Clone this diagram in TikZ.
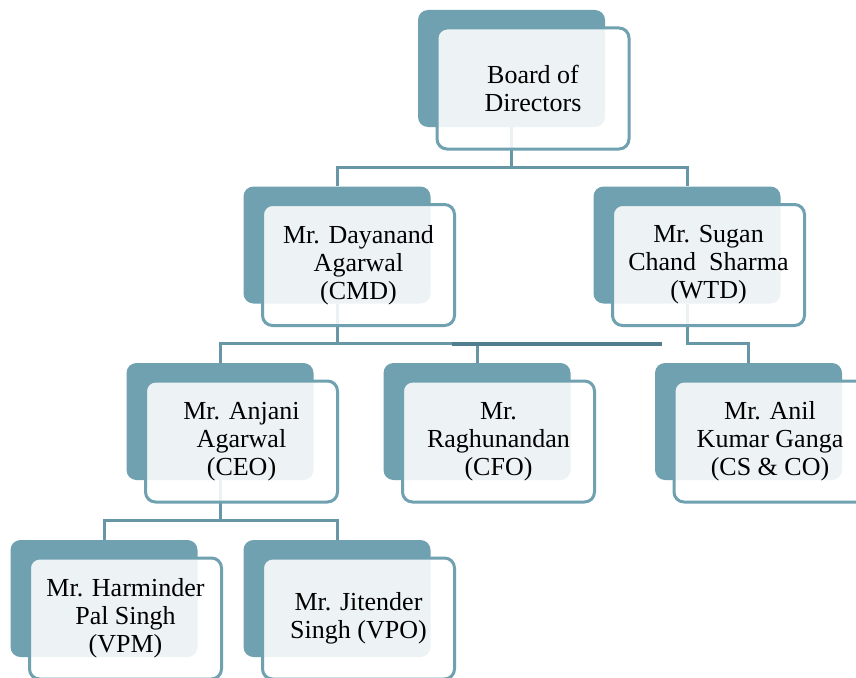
\documentclass[tikz,border=0pt]{standalone}
\usepackage{fontspec}
\setmainfont{Liberation Serif}
\definecolor{teal1}{HTML}{6FA1B0}
\definecolor{conn1}{HTML}{6797A7}
\definecolor{stray1}{HTML}{4F7E8E}
\pgfdeclarelayer{bg}
\pgfsetlayers{bg,main}
\begin{document}
\begin{tikzpicture}[x=1pt,y=-1pt,
  backbox/.style={fill=teal1, rounded corners=10pt, minimum width=187pt, minimum height=117pt, inner sep=0pt},
  frontbox/.style={draw=teal1, line width=3pt, fill=white, fill opacity=0.88, text opacity=1, rounded corners=10pt,
    minimum width=192pt, minimum height=121pt, inner sep=0pt, align=center, font=\fontsize{26}{28}\selectfont},
  conn/.style={draw=conn1, line width=3pt},
  strayline/.style={draw=stray1, line width=4pt},
  fshift/.style={shift={(21.5,20)}}
]
\useasboundingbox (0,0) rectangle (856,677);
\clip (0,0) rectangle (856,677);

% back boxes
\node[backbox] (bodB) at (511.5,68.5) {};
\node[backbox] (cmdB) at (337,245) {};
\node[backbox] (wtdB) at (687,245) {};
\node[backbox] (anjB) at (220,421.5) {};
\node[backbox] (ragB) at (477,421.5) {};
\node[backbox] (anilB) at (748.5,421.5) {};
\node[backbox] (harB) at (104,598.5) {};
\node[backbox] (jitB) at (337,598.5) {};

% front boxes
\node[frontbox] (bod) at ([fshift]bodB.center) {Board of\\Directors};
\node[frontbox] (cmd) at ([fshift]cmdB.center) {Mr. Dayanand\\Agarwal\\(CMD)};
\node[frontbox] (wtd) at ([fshift]wtdB.center) {Mr. Sugan\\Chand\ \ Sharma\\(WTD)};
\node[frontbox] (anj) at ([fshift]anjB.center) {Mr. Anjani\\Agarwal\\(CEO)};
\node[frontbox] (rag) at ([fshift]ragB.center) {Mr.\\Raghunandan\\(CFO)};
\node[frontbox] (anil) at ([fshift]anilB.center) {Mr. Anil\\Kumar Ganga\\(CS \& CO)};
\node[frontbox] (har) at ([fshift]harB.center) {Mr. Harminder\\Pal Singh\\(VPM)};
\node[frontbox] (jit) at ([fshift]jitB.center) {Mr. Jitender\\Singh (VPO)};

\coordinate (s1) at (452,344);
\coordinate (s2) at (662,344);

\begin{pgfonlayer}{bg}
  \draw[conn] (bodB.south) -- ++(0,40) -| (cmdB.north);
  \draw[conn] (bodB.south) -- ++(0,40) -| (wtdB.north);
  \draw[conn] (cmdB.south) -- ++(0,40) -| (anjB.north);
  \draw[conn] (cmdB.south) -- ++(0,40) -| (ragB.north);
  \draw[conn] (wtdB.south) -- ++(0,40) -| (anilB.north);
  \draw[conn] (anjB.south) -- ++(0,40) -| (harB.north);
  \draw[conn] (anjB.south) -- ++(0,40) -| (jitB.north);
  \draw[strayline] (s1) -- (s2);
\end{pgfonlayer}
\end{tikzpicture}
\end{document}
